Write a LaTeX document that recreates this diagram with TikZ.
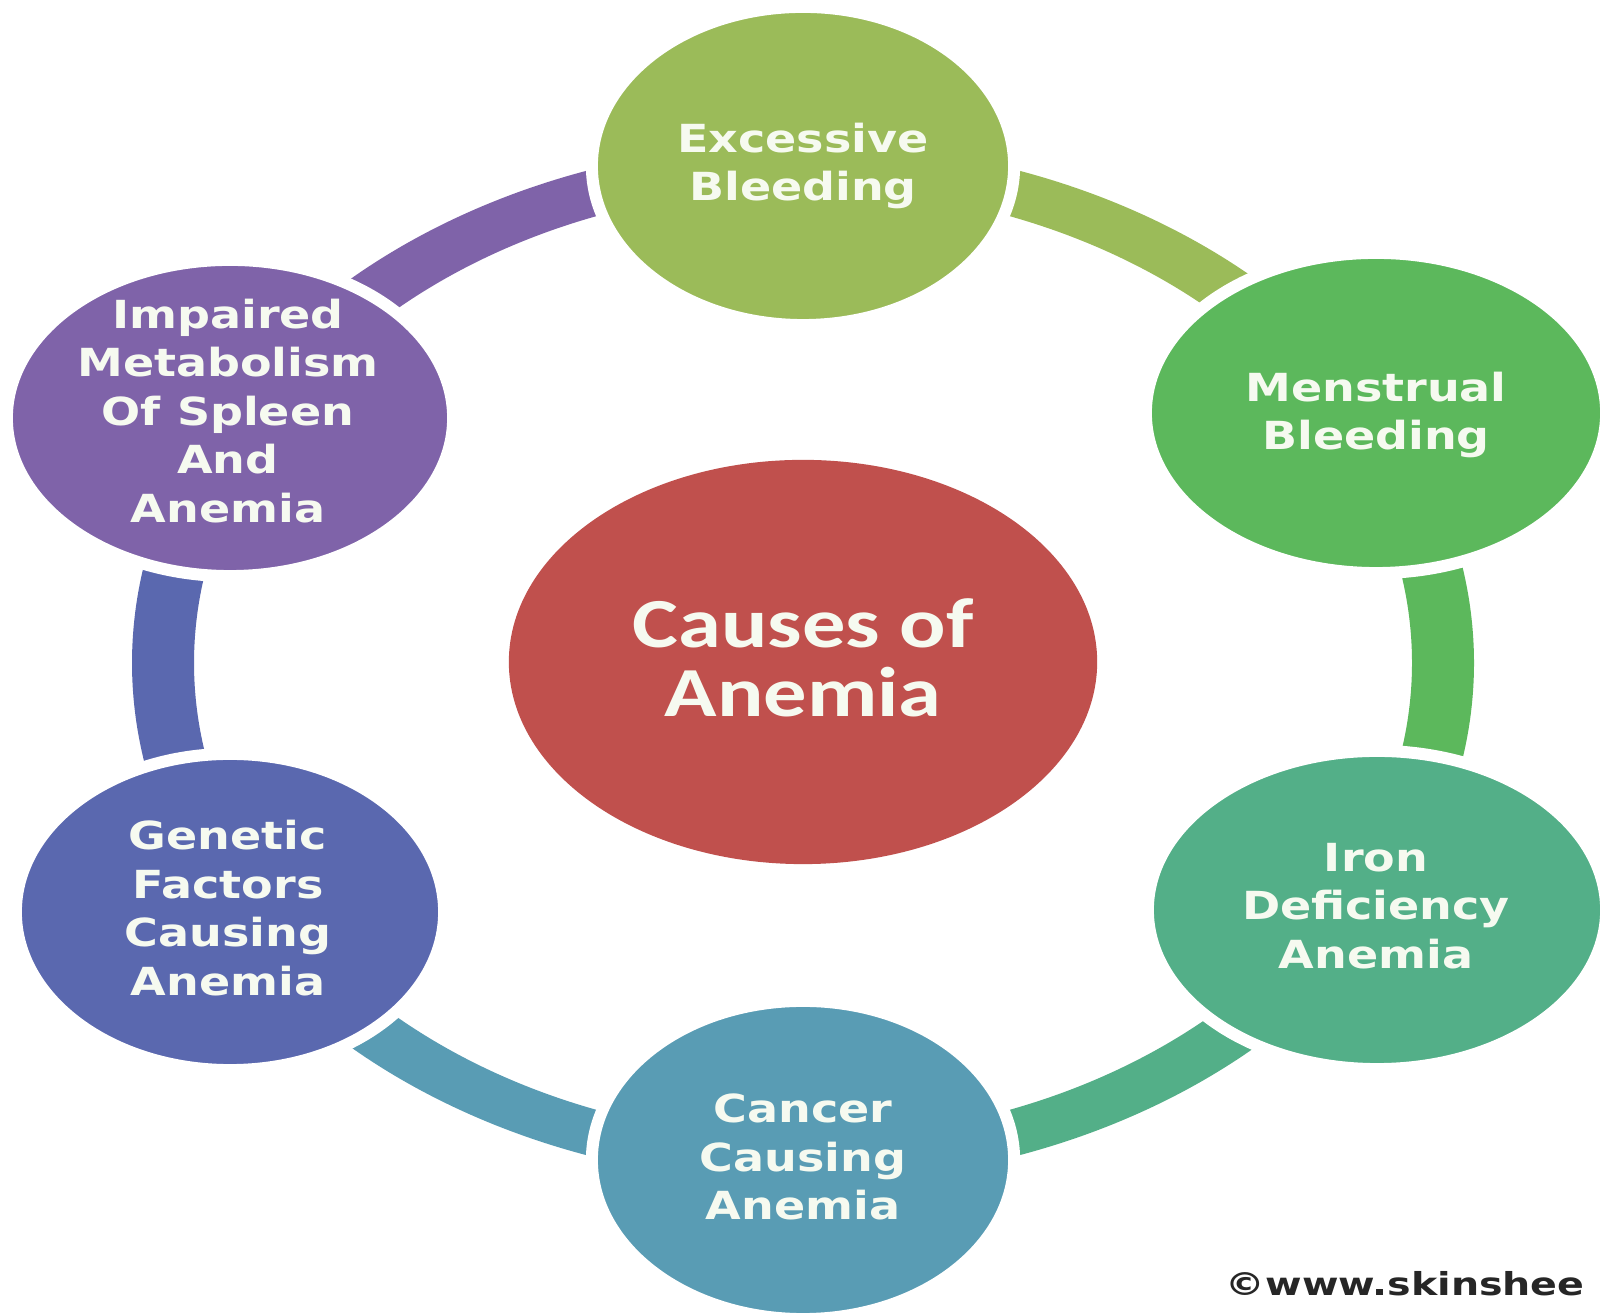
\documentclass[tikz,border=0pt]{standalone}
\usepackage{fontspec}
\usetikzlibrary{shapes.geometric}
\newfontfamily\lblfont{DejaVu Sans}
\newfontfamily\ctrfont{Carlito}
\definecolor{cExc}{HTML}{9BBB59}
\definecolor{cMen}{HTML}{5CB85C}
\definecolor{cIron}{HTML}{53AF88}
\definecolor{cCanc}{HTML}{599CB4}
\definecolor{cGen}{HTML}{5A68AF}
\definecolor{cImp}{HTML}{7F63A9}
\definecolor{cCtr}{HTML}{C0504D}
\definecolor{cTxt}{HTML}{F6FAF0}
\tikzset{
  bubble/.style={ellipse, draw=white, line width=0.12cm, inner sep=0pt},
  lbl/.style={text=cTxt, font=\lblfont\bfseries\fontsize{11pt}{13.8pt}\selectfont, align=center, xscale=1.19, inner sep=0pt},
  ctrlbl/.style={text=cTxt, font=\ctrfont\bfseries\fontsize{20pt}{19.5pt}\selectfont, align=center, xscale=1.23, inner sep=0pt},
  wm/.style={text=black!85, font=\lblfont\bfseries\fontsize{9pt}{11pt}\selectfont, xscale=1.25, inner sep=0pt, anchor=base west}
}
\newcommand\ringseg[3]{%
  \fill[#1] ({803+671*cos(#2)},{650+520*sin(#2)})
    arc[start angle=#2, end angle=#3, x radius=671, y radius=520]
    -- ({803+609*cos(#3)},{650+475*sin(#3)})
    arc[start angle=#3, end angle=#2, x radius=609, y radius=475] -- cycle;}
\begin{document}
\begin{tikzpicture}[x=0.01cm, y=0.01cm]
  \useasboundingbox (0,0) rectangle (1604,1313);
  \clip (0,0) rectangle (1604,1313);
  \fill[white] (0,0) rectangle (1604,1313);
  % ring segments
  \ringseg{cExc}{90}{30}
  \ringseg{cMen}{30}{-30}
  \ringseg{cIron}{-30}{-90}
  \ringseg{cCanc}{-90}{-150}
  \ringseg{cGen}{210}{150}
  \ringseg{cImp}{150}{90}
  % outer bubbles
  \node[bubble, fill=cExc,  minimum width=4.22cm, minimum height=3.18cm] (exc)  at (803,1147) {};
  \node[bubble, fill=cMen,  minimum width=4.60cm, minimum height=3.20cm] (men)  at (1376,900) {};
  \node[bubble, fill=cIron, minimum width=4.58cm, minimum height=3.18cm] (iron) at (1377,403) {};
  \node[bubble, fill=cCanc, minimum width=4.22cm, minimum height=3.18cm] (canc) at (803,153) {};
  \node[bubble, fill=cGen,  minimum width=4.28cm, minimum height=3.16cm] (gen)  at (230,401) {};
  \node[bubble, fill=cImp,  minimum width=4.46cm, minimum height=3.16cm] (imp)  at (230,895) {};
  % center
  \node[ellipse, fill=cCtr, inner sep=0pt, minimum width=5.88cm, minimum height=4.04cm] (ctr) at (803,651) {};
  % labels
  \node[lbl] (excT)  at (803,1147) {Excessive\\Bleeding};
  \node[lbl] (menT)  at (1376,898) {Menstrual\\Bleeding};
  \node[lbl] (ironT) at (1376,407) {Iron\\Deficiency\\Anemia};
  \node[lbl] (cancT) at (803,156) {Cancer\\Causing\\Anemia};
  \node[lbl] (genT)  at (228,405) {Genetic\\Factors\\Causing\\Anemia};
  \node[lbl] (impT)  at (228,902) {Impaired\\Metabolism\\Of Spleen\\And\\Anemia};
  \node[ctrlbl] (ctrT) at (803,655) {Causes of\\Anemia};
  % watermark
  \node[wm] (mark) at (1225,18) {©www.skinshee};
\end{tikzpicture}
\end{document}
